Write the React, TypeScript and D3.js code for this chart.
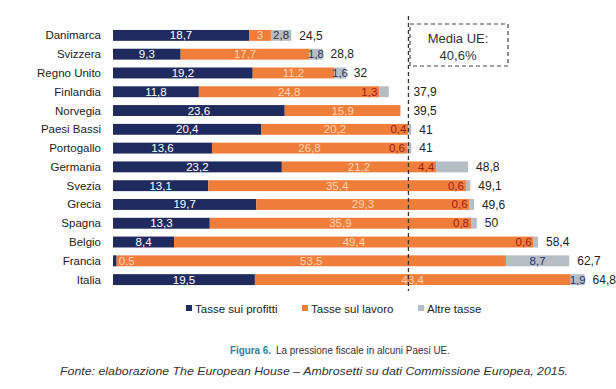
import React from "react";
import * as d3 from "d3";

const countries = ["Danimarca", "Svizzera", "Regno Unito", "Finlandia", "Norvegia", "Paesi Bassi", "Portogallo", "Germania", "Svezia", "Grecia", "Spagna", "Belgio", "Francia", "Italia"];
const profitti = [18.7, 9.3, 19.2, 11.8, 23.6, 20.4, 13.6, 23.2, 13.1, 19.7, 13.3, 8.4, 0.5, 19.5];
const lavoro = [3, 17.7, 11.2, 24.8, 15.9, 20.2, 26.8, 21.2, 35.4, 29.3, 35.9, 49.4, 53.5, 43.4];
const altre = [2.8, 1.8, 1.6, 1.3, 0, 0.4, 0.6, 4.4, 0.6, 0.6, 0.8, 0.6, 8.7, 1.9];
const totals = [24.5, 28.8, 32, 37.9, 39.5, 41, 41, 48.8, 49.1, 49.6, 50, 58.4, 62.7, 64.8];
const seriesNames = ["Tasse sui profitti", "Tasse sul lavoro", "Altre tasse"];
const euAverage = 40.6;

// countries whose "altre tasse" label sits at the end of the orange segment
const otherAtOrangeEnd = new Set(["Finlandia", "Paesi Bassi", "Portogallo", "Germania", "Svezia", "Grecia", "Spagna", "Belgio"]);

const W = 616;
const H = 389;
const NAVY = "#1f2a5e";
const ORANGE = "#f07e3b";
const GREY = "#b6bdc5";
const FONT = "'Liberation Sans', Arial, sans-serif";

const locale = d3.formatLocale({ decimal: ",", thousands: ".", grouping: [3], currency: ["", "€"] });
const fmt = locale.format("~g");

export default function App() {
  const x = d3.scaleLinear().domain([0, 65]).range([113, 586]);
  const y = d3.scaleBand().domain(countries).range([26, 289]).paddingInner(0.42).paddingOuter(0.21);
  const bh = y.bandwidth();
  const lineX = x(euAverage);

  const rows = countries.map((c, i) => ({
    c,
    p: profitti[i],
    l: lavoro[i],
    a: altre[i],
    t: totals[i],
  }));

  return (
    <svg width={W} height={H} style={{ display: "block", background: "#fff" }} fontFamily={FONT}>
      <style>{`body{margin:0}`}</style>
      {rows.map((r) => {
        const yc = y(r.c)! + bh / 2;
        const x0 = x(0);
        const x1 = x(r.p);
        const x2 = x(r.p + r.l);
        const x3 = x(r.p + r.l + r.a);
        let tx = x3 + 8;
        const tw = String(fmt(r.t)).length * 6.4;
        if (tx < lineX + 4 && tx + tw > lineX) tx = lineX + 5;
        const narrowP = r.p < 3;
        return (
          <g key={r.c}>
            <text x={101} y={yc} dy="0.35em" textAnchor="end" fontSize={11.5} fill="#222">{r.c}</text>
            <rect x={x0} y={y(r.c)} width={x1 - x0} height={bh} fill={NAVY} />
            <rect x={x1} y={y(r.c)} width={x2 - x1} height={bh} fill={ORANGE} />
            {r.a > 0 && <rect x={x2} y={y(r.c)} width={x3 - x2} height={bh} fill={GREY} />}
            <text
              x={narrowP ? x1 + 2 : (x0 + x1) / 2}
              y={yc}
              dy="0.35em"
              textAnchor={narrowP ? "start" : "middle"}
              fontSize={11.5}
              fill={narrowP ? "#fbd5b3" : "#fff"}
            >
              {fmt(r.p)}
            </text>
            <text x={(x1 + x2) / 2} y={yc} dy="0.35em" textAnchor="middle" fontSize={11.5} fill="#fbd5b3">{fmt(r.l)}</text>
            {r.a > 0 && (otherAtOrangeEnd.has(r.c) ? (
              <text x={x2 - 2} y={yc} dy="0.35em" textAnchor="end" fontSize={11.5} fill="#9b1c1c">{fmt(r.a)}</text>
            ) : (
              <text x={(x2 + x3) / 2} y={yc} dy="0.35em" textAnchor="middle" fontSize={11.5} fill={r.c === "Danimarca" ? "#333" : "#26336b"}>{fmt(r.a)}</text>
            ))}
            <text x={tx} y={yc} dy="0.35em" fontSize={12} fill="#222">{fmt(r.t)}</text>
          </g>
        );
      })}

      <line x1={lineX} x2={lineX} y1={16} y2={291} stroke="#333" strokeWidth={1.3} strokeDasharray="4,3" />

      <rect x={410} y={24} width={98} height={42} fill="#fff" stroke="#444" strokeWidth={1.2} strokeDasharray="4,3" />
      <text x={458} y={43} textAnchor="middle" fontSize={13} fill="#333">Media UE:</text>
      <text x={458} y={60} textAnchor="middle" fontSize={13} fill="#333">{fmt(euAverage)}%</text>

      {seriesNames.map((s, i) => {
        const lx = [186, 302, 418][i];
        return (
          <g key={s}>
            <rect x={lx} y={305} width={6} height={6} fill={[NAVY, ORANGE, GREY][i]} />
            <text x={lx + 9} y={312.5} fontSize={11.5} fill="#222">{s}</text>
          </g>
        );
      })}

      <text x={230} y={354} fontSize={11.5} fontWeight="bold" fill="#2b7ea3" textLength={41} lengthAdjust="spacingAndGlyphs">Figura 6.</text>
      <text x={276} y={354} fontSize={11.5} fill="#333" textLength={174} lengthAdjust="spacingAndGlyphs">La pressione fiscale in alcuni Paesi UE.</text>
      <text x={60} y={375} fontSize={11.5} fontStyle="italic" fill="#333" textLength={508} lengthAdjust="spacingAndGlyphs">
        Fonte: elaborazione The European House – Ambrosetti su dati Commissione Europea, 2015.
      </text>
    </svg>
  );
}
